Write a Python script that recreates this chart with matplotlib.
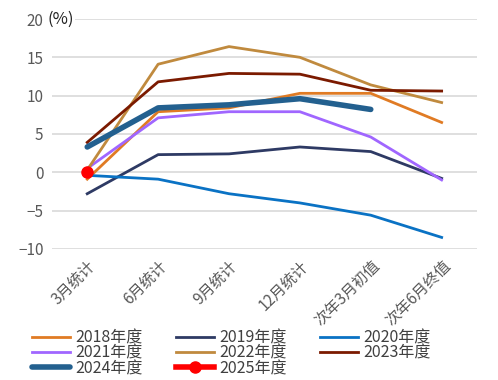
import matplotlib
matplotlib.use("Agg")
import matplotlib.pyplot as plt

plt.rcParams['font.family'] = ['Noto Sans CJK SC', 'DejaVu Sans']

categories = ["3月统计", "6月统计", "9月统计", "12月统计", "次年3月初值", "次年6月终值"]

y2018 = [-0.9, 7.9, 8.4, 10.3, 10.3, 6.5]
y2019 = [-2.8, 2.3, 2.4, 3.3, 2.7, -0.8]
y2020 = [-0.4, -0.9, -2.8, -4.0, -5.6, -8.5]
y2021 = [0.5, 7.1, 7.9, 7.9, 4.6, -1.0]
y2022 = [0.3, 14.1, 16.4, 15.0, 11.4, 9.1]
y2023 = [3.9, 11.8, 12.9, 12.8, 10.7, 10.6]
y2024 = [3.3, 8.4, 8.8, 9.6, 8.2]
y2025 = [0.0]

fig = plt.figure(figsize=(4.98, 3.8), dpi=100)
ax = fig.add_axes([0.104, 0.345, 0.854, 0.605])

x = list(range(len(categories)))
h18, = ax.plot(x, y2018, color="#E07B24", lw=2, label="2018年度")
h19, = ax.plot(x, y2019, color="#2E3A64", lw=2, label="2019年度")
h20, = ax.plot(x, y2020, color="#0A72C4", lw=2, label="2020年度")
h21, = ax.plot(x, y2021, color="#A066FF", lw=2, label="2021年度")
h22, = ax.plot(x, y2022, color="#C08A3E", lw=2, label="2022年度")
h23, = ax.plot(x, y2023, color="#7B1A00", lw=2, label="2023年度")
h24, = ax.plot(x[:len(y2024)], y2024, color="#23608F", lw=4, solid_capstyle="round", label="2024年度")
h25, = ax.plot(x[:len(y2025)], y2025, color="#FF0000", lw=4, marker="o", markersize=8, label="2025年度")

ax.set_xlim(-0.5, 5.5)
ax.set_ylim(-10, 20)
ax.set_yticks(range(-10, 21, 5))
ax.set_xticks(x)
ax.set_xticklabels(categories, rotation=45, ha="right", rotation_mode="anchor")
ax.grid(axis="y", color="#D9D9D9", lw=1.2)
ax.set_axisbelow(True)
for s in ax.spines.values():
    s.set_visible(False)
ax.tick_params(length=0, labelsize=11, colors="#595959", pad=6)
ax.text(-0.01, 1.0, "(%)", transform=ax.transAxes, fontsize=12, color="#222222",
        va="center", ha="left", bbox=dict(facecolor="white", edgecolor="none", pad=1))

# row-major order like the original legend
handles = [h18, h21, h24, h19, h22, h25, h20, h23]
fig.legend(handles=handles, loc="lower left", bbox_to_anchor=(0.035, -0.03), ncol=3, frameon=False,
           fontsize=11.5, handlelength=2.4, handletextpad=0.3, columnspacing=2.1,
           labelspacing=-0.1, labelcolor="#404040")

fig.savefig("out.png", dpi=100)
